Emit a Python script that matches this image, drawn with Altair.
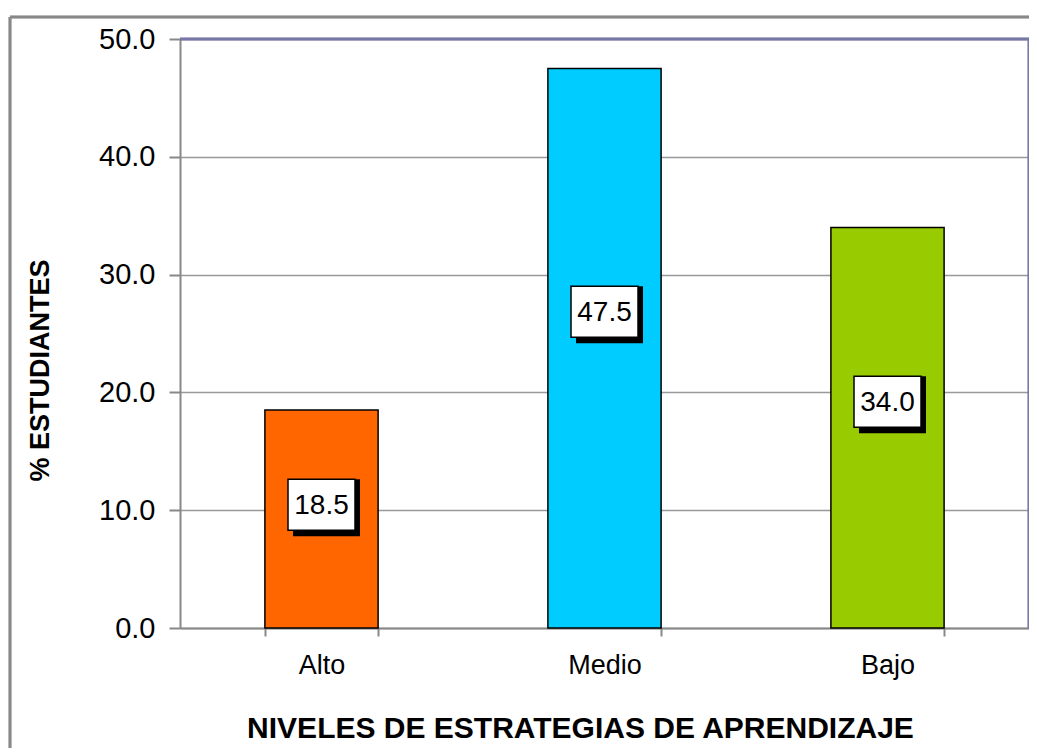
import altair as alt
import pandas as pd

categories = ["Alto", "Medio", "Bajo"]
values = [18.5, 47.5, 34.0]
colors = ["#FF6600", "#00CCFF", "#99CC00"]
labels = ["18.5", "47.5", "34.0"]

df = pd.DataFrame({"nivel": categories, "pct": values, "label": labels})

W, H = 849, 589
LEFT, TOP = 172, 31
FONT = "Liberation Sans"

xenc = alt.X(
    "nivel:N",
    sort=categories,
    scale=alt.Scale(paddingInner=0.6, paddingOuter=0.3),
    axis=alt.Axis(
        title="NIVELES DE ESTRATEGIAS DE APRENDIZAJE",
        labelAngle=0,
        labelFontSize=27,
        labelPadding=16,
        labelColor="#000000",
        titleFontSize=30,
        titleFontWeight="bold",
        titleX=400,
        titleY=109,
        titleBaseline="alphabetic",
        titleColor="#000000",
        tickBand="extent",
        tickSize=8,
        tickColor="#888888",
        domainColor="#888888",
        domainWidth=2,
        tickWidth=2,
        grid=False,
    ),
)

yscale = alt.Scale(domain=[0, 50])
yaxis = alt.Axis(
    title="% ESTUDIANTES",
    values=[0, 10, 20, 30, 40, 50],
    format=".1f",
    labelFontSize=29,
    labelPadding=14,
    labelColor="#000000",
    titleFontSize=27,
    titleFontWeight="bold",
    titleX=-132,
    titleY=331,
    titleBaseline="alphabetic",
    titleColor="#000000",
    tickSize=11,
    tickColor="#888888",
    tickWidth=2,
    domainColor="#888888",
    domainWidth=2,
    grid=True,
    gridColor="#999999",
    gridWidth=1.5,
)

bars = alt.Chart(df).mark_bar(stroke="#000000", strokeWidth=1.5).encode(
    x=xenc,
    y=alt.Y("pct:Q", scale=yscale, axis=yaxis),
    color=alt.Color("nivel:N", scale=alt.Scale(domain=categories, range=colors), legend=None),
)

half_box = 25.5 / (H / 50)  # half of label box height in data units

boxes_base = alt.Chart(df).transform_calculate(
    mid="datum.pct * 0.565",
    lo="datum.pct * 0.565 - " + str(half_box),
    hi="datum.pct * 0.565 + " + str(half_box),
)

shadow = boxes_base.mark_bar(width=67, color="#000000", xOffset=5, yOffset=6).encode(
    x=alt.X("nivel:N", sort=categories),
    y=alt.Y("lo:Q", scale=yscale),
    y2="hi:Q",
)
box = boxes_base.mark_bar(width=67, fill="#FFFFFF", stroke="#000000", strokeWidth=1.5).encode(
    x=alt.X("nivel:N", sort=categories),
    y=alt.Y("lo:Q", scale=yscale),
    y2="hi:Q",
)
text = boxes_base.mark_text(fontSize=28, font=FONT, color="#000000", baseline="middle", align="center", dy=1).encode(
    x=alt.X("nivel:N", sort=categories),
    y=alt.Y("mid:Q", scale=yscale),
    text="label:N",
)

# plot area border (top and right) in purple-gray
border_top = alt.Chart(df).mark_rule(color="#7878A8", strokeWidth=2.5).encode(
    x=alt.value(0), x2=alt.value(W), y=alt.value(0)
)
border_right = alt.Chart(df).mark_rule(color="#7878A8", strokeWidth=2.5).encode(
    x=alt.value(W), y=alt.value(0), y2=alt.value(H)
)
# outer chart frame (left and top)
frame_left = alt.Chart(df).mark_rule(color="#888888", strokeWidth=2.5).encode(
    x=alt.value(10 - 8 - LEFT), y=alt.value(17 - 8 - TOP), y2=alt.value(760)
)
frame_top = alt.Chart(df).mark_rule(color="#888888", strokeWidth=2.5).encode(
    x=alt.value(10 - 8 - LEFT), x2=alt.value(900), y=alt.value(17 - 8 - TOP)
)

chart = alt.layer(
    bars, shadow, box, text, border_top, border_right, frame_left, frame_top
).properties(
    width=W,
    height=H,
    autosize=alt.AutoSizeParams(type="none"),
    padding={"left": LEFT, "top": TOP, "right": 0, "bottom": 120},
    background="#FFFFFF",
).configure_view(
    stroke=None
).configure_axis(
    labelFont=FONT, titleFont=FONT
)

chart.save("out.html", embed_options={"renderer": "svg", "actions": False})
